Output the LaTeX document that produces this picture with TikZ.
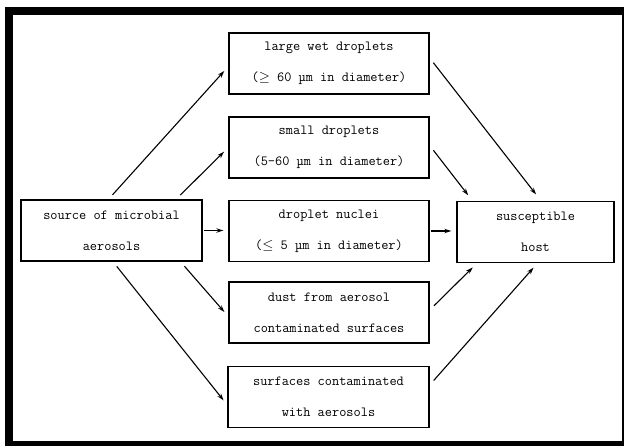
\documentclass[tikz,border=0pt]{standalone}
\usepackage{tikz}
\usetikzlibrary{arrows.meta}

\begin{document}
\begin{tikzpicture}[x=1bp,y=-1bp,
  box/.style={draw, line width=1.4bp, align=center, inner sep=0pt,
    minimum height=61bp, font=\ttfamily\fontsize{14}{31}\selectfont},
  arr/.style={-{Stealth[length=7bp,width=4.5bp]}, line width=1.1bp,
    shorten <=6bp, shorten >=6bp}]
  \useasboundingbox (0,0) rectangle (625,448);

  \fill[black] (5,7) rectangle (623.5,446);
  \fill[white] (13,15) rectangle (622,441);

  \node[box, minimum width=181bp] (src) at (111.5,230.5) {source of microbial\\aerosols};
  \node[box, minimum width=200bp] (lw) at (329,63.5) {large wet droplets\\($\geq$ 60 µm in diameter)};
  \node[box, minimum width=200bp] (sd) at (329,147.5) {small droplets\\(5-60 µm in diameter)};
  \node[box, minimum width=200bp] (dn) at (329,231) {droplet nuclei\\($\leq$ 5 µm in diameter)};
  \node[box, minimum width=200bp] (dust) at (329,312.5) {dust from aerosol\\contaminated surfaces};
  \node[box, minimum width=201bp] (sf) at (328.5,397) {surfaces contaminated\\with aerosols};
  \node[box, minimum width=157bp] (host) at (535.5,232) {susceptible\\host};

  \draw[arr] ([xshift=-3bp]src.north) -- ([yshift=-3bp]lw.west);
  \draw[arr] ([xshift=64.5bp]src.north) -- (sd.west);
  \draw[arr, shorten <=1bp, shorten >=5bp] (src.east) -- (src.east -| dn.west);
  \draw[arr] ([xshift=69bp]src.south) -- ([yshift=-4bp]dust.west);
  \draw[arr] ([xshift=1.5bp]src.south) -- ([yshift=-8bp]sf.west);

  \draw[arr, shorten >=8bp] ([yshift=5.5bp]lw.east) -- ([xshift=5.5bp]host.north);
  \draw[arr, shorten >=7bp] ([yshift=2bp]sd.east) -- ([xshift=-63bp]host.north);
  \draw[arr, shorten <=1bp, shorten >=5bp] (dn.east) -- (dn.east -| host.west);
  \draw[arr] ([yshift=2.5bp]dust.east) -- ([xshift=-58.5bp]host.south);
  \draw[arr] ([yshift=12bp]sf.east) -- ([xshift=2bp]host.south);
\end{tikzpicture}
\end{document}
